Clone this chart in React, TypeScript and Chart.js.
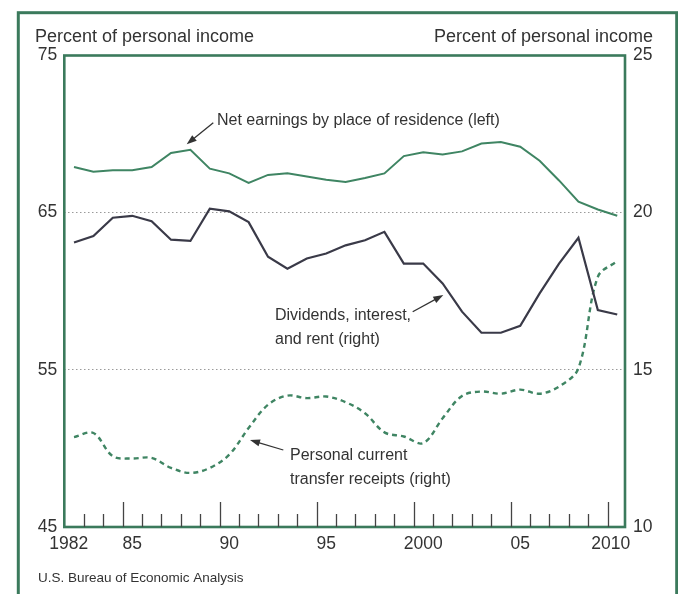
import React, { useEffect, useRef } from "react";
import { Chart, registerables } from "chart.js";

Chart.register(...registerables);

// ---- data ----
const years = [
  1982, 1983, 1984, 1985, 1986, 1987, 1988, 1989, 1990, 1991, 1992, 1993, 1994, 1995,
  1996, 1997, 1998, 1999, 2000, 2001, 2002, 2003, 2004, 2005, 2006, 2007, 2008, 2009, 2010,
];
// Net earnings by place of residence (left axis, % of personal income)
const netEarnings = [
  67.9, 67.6, 67.7, 67.7, 67.9, 68.8, 69.0, 67.8, 67.5, 66.9, 67.4, 67.5, 67.3, 67.1,
  66.95, 67.2, 67.5, 68.6, 68.85, 68.7, 68.9, 69.4, 69.5, 69.2, 68.3, 67.05, 65.7, 65.2, 64.8,
];
// Dividends, interest, and rent (right axis)
const dividends = [
  19.05, 19.26, 19.84, 19.9, 19.73, 19.14, 19.1, 20.13, 20.04, 19.7, 18.6, 18.22, 18.54, 18.7,
  18.96, 19.12, 19.39, 18.38, 18.38, 17.75, 16.85, 16.18, 16.18, 16.4, 17.43, 18.38, 19.2, 16.9, 16.76,
];
// Personal current transfer receipts (right axis)
const transfers = [
  12.86, 12.99, 12.25, 12.18, 12.2, 11.88, 11.72, 11.88, 12.3, 13.15, 13.89, 14.18, 14.1, 14.15,
  13.97, 13.62, 13.01, 12.88, 12.67, 13.46, 14.17, 14.31, 14.24, 14.37, 14.24, 14.47, 15.05, 17.96, 18.46,
];
const xTickLabels = ["1982", "85", "90", "95", "2000", "05", "2010"];
const xTickPositions = [1982.23, 1985.5, 1990.5, 1995.5, 2000.5, 2005.5, 2010.17];
const leftTicks = [45, 55, 65, 75];
const rightTicks = [10, 15, 20, 25];
const leftTitle = "Percent of personal income";
const rightTitle = "Percent of personal income";
const sourceText = "U.S. Bureau of Economic Analysis";
const noteNet = ["Net earnings by place of residence (left)"];
const noteDiv = ["Dividends, interest,", "and rent (right)"];
const noteTr = ["Personal current", "transfer receipts (right)"];

const GREEN = "#3f8563";
const FRAME = "#3b7a5c";
const DARK = "#3a3a48";
const TEXT = "#333333";
const FONT = "'Liberation Sans', Arial, Helvetica, sans-serif";

function arrow(ctx: CanvasRenderingContext2D, x1: number, y1: number, x2: number, y2: number) {
  const ang = Math.atan2(y2 - y1, x2 - x1);
  const len = 10;
  const hw = 3.6;
  ctx.save();
  ctx.strokeStyle = "#333";
  ctx.fillStyle = "#333";
  ctx.lineWidth = 1.3;
  ctx.beginPath();
  ctx.moveTo(x1, y1);
  ctx.lineTo(x2 - Math.cos(ang) * len * 0.8, y2 - Math.sin(ang) * len * 0.8);
  ctx.stroke();
  ctx.beginPath();
  ctx.moveTo(x2, y2);
  ctx.lineTo(x2 - Math.cos(ang) * len - Math.sin(ang) * hw, y2 - Math.sin(ang) * len + Math.cos(ang) * hw);
  ctx.lineTo(x2 - Math.cos(ang) * len + Math.sin(ang) * hw, y2 - Math.sin(ang) * len - Math.cos(ang) * hw);
  ctx.closePath();
  ctx.fill();
  ctx.restore();
}

const decorPlugin = {
  id: "decor",
  beforeDraw(chart: any) {
    const ctx = chart.ctx as CanvasRenderingContext2D;
    ctx.save();
    ctx.fillStyle = "#ffffff";
    ctx.fillRect(0, 0, chart.width, chart.height);
    // outer frame
    ctx.strokeStyle = FRAME;
    ctx.lineWidth = 3;
    ctx.strokeRect(18.3, 12.7, 658.4, 640);
    ctx.restore();
  },
  afterDatasetsDraw(chart: any) {
    const ctx = chart.ctx as CanvasRenderingContext2D;
    const { left, right, top, bottom } = chart.chartArea;
    const xs = chart.scales.x;
    ctx.save();
    // plot box
    ctx.strokeStyle = FRAME;
    ctx.lineWidth = 2.6;
    ctx.strokeRect(left, top, right - left, bottom - top);
    // year tick marks
    ctx.strokeStyle = "#444";
    ctx.lineWidth = 1.3;
    for (let i = 1; i < years.length; i++) {
      const yr = years[i];
      const px = Math.round(xs.getPixelForValue(yr)) + 0.5;
      const h = yr % 5 === 0 ? 25 : 13;
      ctx.beginPath();
      ctx.moveTo(px, bottom);
      ctx.lineTo(px, bottom - h);
      ctx.stroke();
    }
    // axis titles
    ctx.fillStyle = TEXT;
    ctx.font = `18px ${FONT}`;
    ctx.textBaseline = "alphabetic";
    ctx.textAlign = "left";
    ctx.fillText(leftTitle, 35, 42);
    ctx.textAlign = "right";
    ctx.fillText(rightTitle, 653, 42);
    // annotations
    ctx.font = `16px ${FONT}`;
    ctx.textAlign = "left";
    ctx.fillText(noteNet[0], 217, 125);
    ctx.fillText(noteDiv[0], 275, 320);
    ctx.fillText(noteDiv[1], 275, 344);
    ctx.fillText(noteTr[0], 290, 460);
    ctx.fillText(noteTr[1], 290, 484);
    arrow(ctx, 213.3, 122.7, 186.7, 144.3);
    arrow(ctx, 412.7, 311.7, 443.3, 295);
    arrow(ctx, 283.3, 450, 250, 440);
    // source
    ctx.font = `13.5px ${FONT}`;
    ctx.fillText(sourceText, 38, 582);
    ctx.restore();
  },
};

export default function App() {
  const ref = useRef<HTMLCanvasElement | null>(null);
  useEffect(() => {
    if (!ref.current) return;
    const pts = (vals: number[]) => vals.map((v, i) => ({ x: years[i] + 0.5, y: v }));
    const chart = new Chart(ref.current, {
      type: "line",
      data: {
        datasets: [
          {
            label: "Net earnings by place of residence (left)",
            data: pts(netEarnings),
            yAxisID: "yL",
            borderColor: GREEN,
            borderWidth: 2,
            pointRadius: 0,
            tension: 0,
            fill: false,
          },
          {
            label: "Dividends, interest, and rent (right)",
            data: pts(dividends),
            yAxisID: "yR",
            borderColor: DARK,
            borderWidth: 2.2,
            pointRadius: 0,
            tension: 0,
            fill: false,
          },
          {
            label: "Personal current transfer receipts (right)",
            data: pts(transfers),
            yAxisID: "yR",
            borderColor: GREEN,
            borderWidth: 2.4,
            borderDash: [5, 4],
            pointRadius: 0,
            tension: 0.35,
            fill: false,
          },
        ],
      },
      options: {
        animation: false,
        responsive: false,
        devicePixelRatio: 1,
        layout: { padding: { top: 55.5, left: 0, right: 0, bottom: 0 } },
        plugins: { legend: { display: false }, tooltip: { enabled: false }, title: { display: false } },
        scales: {
          x: {
            type: "linear",
            min: 1982,
            max: 2010.9,
            grid: { display: false, drawTicks: false },
            border: { display: false },
            afterFit: (s: any) => {
              s.height = 67;
            },
            afterBuildTicks: (s: any) => {
              s.ticks = xTickPositions.map((v) => ({ value: v }));
            },
            ticks: {
              autoSkip: false,
              maxRotation: 0,
              padding: 7,
              color: TEXT,
              font: { family: FONT, size: 17.5 },
              callback: (_v: any, i: number) => xTickLabels[i],
            },
          },
          yL: {
            type: "linear",
            position: "left",
            min: 45,
            max: 75,
            afterFit: (s: any) => {
              s.width = 64.3;
            },
            afterBuildTicks: (s: any) => {
              s.ticks = leftTicks.map((v) => ({ value: v }));
            },
            grid: {
              drawTicks: false,
              color: (c: any) => (c.tick && (c.tick.value === 55 || c.tick.value === 65) ? "#9a9a9a" : "rgba(0,0,0,0)"),
              lineWidth: 1,
            },
            border: { display: false, dash: [1.5, 2.5] },
            ticks: {
              padding: 7,
              color: TEXT,
              font: { family: FONT, size: 17.5 },
            },
          },
          yR: {
            type: "linear",
            position: "right",
            min: 10,
            max: 25,
            afterFit: (s: any) => {
              s.width = 53;
            },
            afterBuildTicks: (s: any) => {
              s.ticks = rightTicks.map((v) => ({ value: v }));
            },
            grid: { display: false, drawTicks: false },
            border: { display: false },
            ticks: {
              padding: 8,
              color: TEXT,
              font: { family: FONT, size: 17.5 },
            },
          },
        },
      },
      plugins: [decorPlugin],
    } as any);
    return () => chart.destroy();
  }, []);
  return (
    <div style={{ position: "absolute", left: 0, top: 0, width: 678, height: 594 }}>
      <canvas ref={ref} width={678} height={594} style={{ display: "block", width: 678, height: 594 }} />
    </div>
  );
}
